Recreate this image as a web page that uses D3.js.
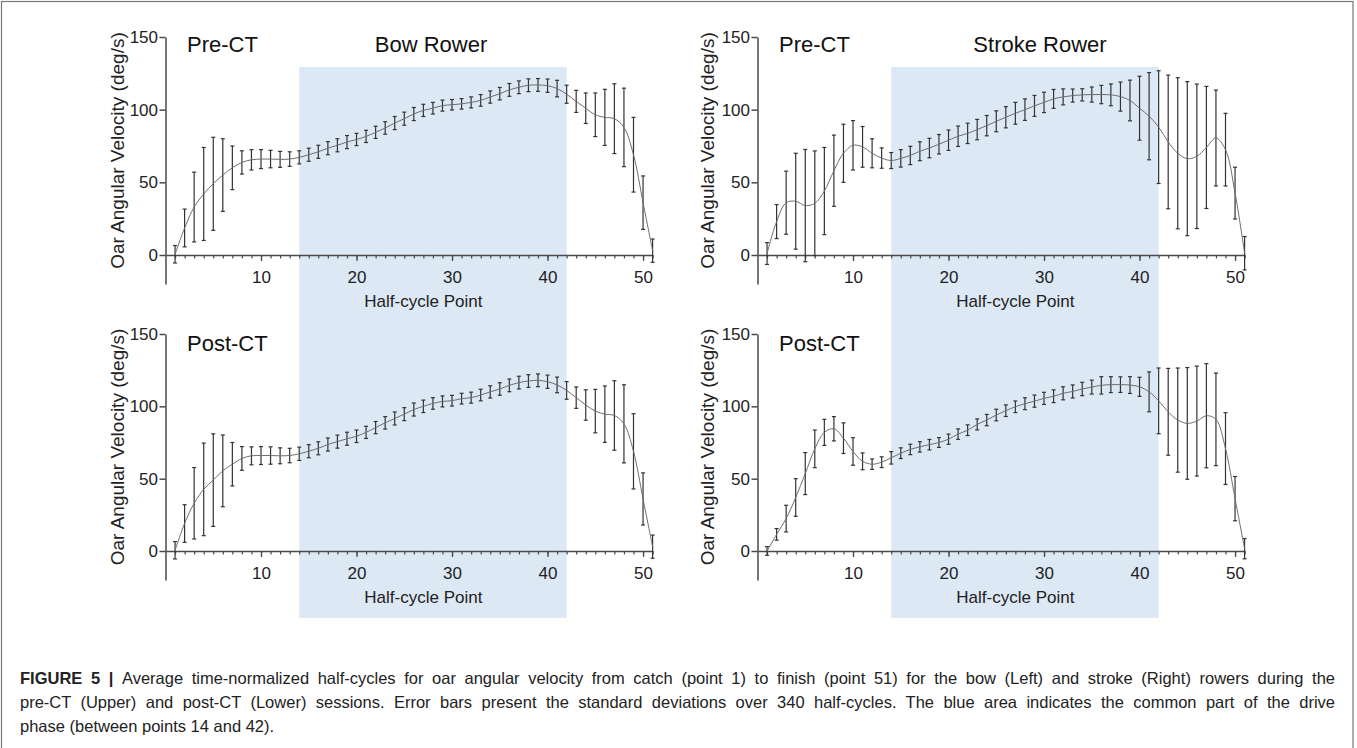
<!DOCTYPE html>
<html>
<head>
<meta charset="utf-8">
<script src="https://cdn.jsdelivr.net/npm/d3@7"></script>
<style>
  html, body { margin: 0; padding: 0; background: #fff; }
  svg { display: block; }
</style>
</head>
<body>
<script>
// ---------------- DATA ----------------
const halfCyclePoints = [1,2,3,4,5,6,7,8,9,10,11,12,13,14,15,16,17,18,19,20,21,22,23,24,25,26,27,28,29,30,31,32,33,34,35,36,37,38,39,40,41,42,43,44,45,46,47,48,49,50,51];
const xTickLabels = [10, 20, 30, 40, 50];
const yTickLabels = [0, 50, 100, 150];
const drivePhase = [14, 42];

const bowPreMean = [0.5,18.6,33,42,49,55,60,63.7,65.5,66,66,65.8,66,67.2,69,71,73.5,75.5,77.7,79.5,81.6,84.4,87.4,90.8,93.8,97,99.5,101,102.8,103.4,104,105,106.4,108.7,111,113.6,115.4,116.8,117,116.5,114.5,110.6,105.7,101,96.5,94.7,93.8,87.8,69,36,3];
const bowPreSD = [6,13,24,32,32,25,15,8,7,6.5,6,5.5,5,4.5,4.5,4.5,4.5,4.5,4.5,4.2,4.2,4.2,4.3,4.5,4.5,4.5,4.2,4,3.8,3.6,3.6,3.8,4,4.2,4.3,4.4,4.4,4.4,4.4,4.6,5.7,6.2,7.6,10.5,15,19.3,24,27,25.7,18.4,8];

const bowPostMean = [0.5,19,33,42.6,49,55.4,60,64,65.8,66,66,65.8,66,67.2,69,71,73.6,75.6,77.6,79.3,82,85.3,88.6,91.6,94.6,97.8,100,102,103.4,103.9,105.3,106,107.8,110,112,114.5,116.4,117.5,118,117,114.8,111,106,100.9,96.7,94.6,93.7,87.9,68.9,36,3];
const bowPostSD = [6,13,24.7,32,32,24.8,15,8.2,6.2,6.2,6,5.5,5,4.6,4.5,4.5,4.5,4.5,4.5,4.3,4.2,4.2,4.3,4.5,4.5,4.5,4.3,4,3.8,3.7,3.7,3.8,4,4.2,4.3,4.4,4.4,4.4,4.4,4.6,5.4,6.1,7.4,10.5,15,19.5,24,27,26,18,8];

const strokePreMean = [1,23,36,37,34,35.6,44,58,70,75.5,74.4,70,66.7,65,66.5,68.5,71.4,73.6,76.2,79,81.7,83.7,86.3,89,92,94.8,97.5,100,102.6,105,107.4,108.8,109.7,110.2,110.4,110.4,110.2,109,106.3,101,95.5,88,77.8,70,66.3,67.9,74,80.5,72.5,42.6,1.2];
const strokePreSD = [7.5,11.7,21.7,33,38.6,36,30,24.5,20,17,14,10,7,5.5,6,6.3,6.5,6.7,6.7,7,7,7,7,7,7.2,7.3,7.5,7.4,7.2,7,6.5,5.5,4.5,4.2,5.2,6.3,7.5,10,14,22,30,38.8,46,52,53,49.7,42,33,25,17.8,11.5];

const strokePostMean = [0,11.5,22.4,37,53.5,70.6,82,84.5,78,68.8,62,60,61.4,64.4,67.6,70.2,72,73.5,75,77.3,80.8,83.5,87.5,90.5,94,97,99.7,101.8,103.6,105.5,107,109,110.3,112,113.3,114.5,115,115,114.7,113.5,110,103.8,96.2,90.5,88.2,89.8,93.5,91,70.8,36.2,1.6];
const strokePostSD = [3,4,9.2,13,14.5,13,9,8.4,10.6,9.5,5.8,3.6,3.7,4.3,3.7,3.6,3.6,3.6,3.4,3.5,3.6,3.7,3.8,3.9,4,4,4,4.1,4.2,4.2,4.4,4.5,4.5,4.6,4.8,6,5.5,5.4,5.8,6.6,13.8,22.7,30,36,38.6,38,36,32,24.8,15.3,7];

const sessionLabels = ["Pre-CT", "Post-CT"];
const rowerLabels = ["Bow Rower", "Stroke Rower"];
const yAxisTitle = "Oar Angular Velocity (deg/s)";
const xAxisTitle = "Half-cycle Point";
const captionLines = [
  ["FIGURE 5 | ", "Average time-normalized half-cycles for oar angular velocity from catch (point 1) to finish (point 51) for the bow (Left) and stroke (Right) rowers during the"],
  ["", "pre-CT (Upper) and post-CT (Lower) sessions. Error bars present the standard deviations over 340 half-cycles. The blue area indicates the common part of the drive"],
  ["", "phase (between points 14 and 42)."]
];

// ---------------- LAYOUT ----------------
const W = 1357, H = 748;
const svg = d3.select("body").append("svg").attr("width", W).attr("height", H)
  .style("font-family", "Arial, 'Liberation Sans', Helvetica, sans-serif");

svg.append("rect").attr("width", W).attr("height", H).attr("fill", "#fff");

const columns = [
  { xl: 165.5, xr: 652.6, titleX: 117, rowerX: 431 },
  { xl: 757.5, xr: 1244.6, titleX: 707, rowerX: 1040 }
];
const rows = [
  { yZero: 255, yTop: 37, labelBase: 52 },
  { yZero: 551, yTop: 334, labelBase: 351 }
];
const panels = [
  { col: 0, row: 0, mean: bowPreMean, sd: bowPreSD },
  { col: 1, row: 0, mean: strokePreMean, sd: strokePreSD },
  { col: 0, row: 1, mean: bowPostMean, sd: bowPostSD },
  { col: 1, row: 1, mean: strokePostMean, sd: strokePostSD }
];

const blueTop = 67, blueBottom = 618;

// blue drive-phase bands (continuous per column)
columns.forEach(c => {
  const x = d3.scaleLinear().domain([0, 51]).range([c.xl, c.xr]);
  svg.append("rect")
    .attr("x", x(drivePhase[0])).attr("y", blueTop)
    .attr("width", x(drivePhase[1]) - x(drivePhase[0]))
    .attr("height", blueBottom - blueTop)
    .attr("fill", "#dde8f5");
});

panels.forEach(p => {
  const c = columns[p.col], r = rows[p.row];
  const x = d3.scaleLinear().domain([0, 51]).range([c.xl, c.xr]);
  const k = (r.yZero - r.yTop) / 150;
  const y = d3.scaleLinear().domain([-20, 150]).range([r.yZero + 20 * k, r.yTop]);
  const g = svg.append("g");

  // y axis
  const yAx = g.append("g").attr("transform", `translate(${c.xl},0)`)
    .call(d3.axisLeft(y).tickValues(yTickLabels).tickSize(6).tickSizeOuter(0).tickPadding(1.5));
  yAx.selectAll("path, line").attr("stroke", "#4a4a4a").attr("stroke-width", 1.5);
  yAx.selectAll("text").attr("font-size", 17).attr("fill", "#222");

  // x axis minor ticks
  const xMin = g.append("g").attr("transform", `translate(0,${y(0)})`)
    .call(d3.axisBottom(x).tickValues(halfCyclePoints).tickSize(3.5).tickSizeOuter(0).tickFormat(""));
  xMin.selectAll("path, line").attr("stroke", "#4a4a4a").attr("stroke-width", 1.2);
  xMin.select("path").attr("stroke-width", 1.5);
  // x axis major ticks
  const xMaj = g.append("g").attr("transform", `translate(0,${y(0)})`)
    .call(d3.axisBottom(x).tickValues(xTickLabels).tickSize(6).tickSizeOuter(0).tickPadding(10));
  xMaj.select("path").remove();
  xMaj.selectAll("line").attr("stroke", "#4a4a4a").attr("stroke-width", 1.3);
  xMaj.selectAll("text").attr("font-size", 17).attr("fill", "#222");

  // x axis title
  g.append("text").attr("x", x(27)).attr("y", y(0) + 52)
    .attr("text-anchor", "middle").attr("font-size", 17).attr("fill", "#222")
    .text(xAxisTitle);

  // y axis title
  const ty = (y(150) + y(-20)) / 2 - 10;
  g.append("text").attr("transform", `translate(${c.titleX + 7},${ty}) rotate(-90)`)
    .attr("text-anchor", "middle").attr("font-size", 19).attr("fill", "#222")
    .text(yAxisTitle);

  // session label
  g.append("text").attr("x", c.xl + 21.5).attr("y", r.labelBase)
    .attr("font-size", 22).attr("fill", "#111").text(sessionLabels[p.row]);
  if (p.row === 0) {
    g.append("text").attr("x", c.rowerX).attr("y", r.labelBase)
      .attr("text-anchor", "middle").attr("font-size", 22).attr("fill", "#111")
      .text(rowerLabels[p.col]);
  }

  // error bars
  const eb = g.append("g").attr("stroke", "#333").attr("stroke-width", 1.2);
  halfCyclePoints.forEach((pt, i) => {
    const xm = x(pt), lo = y(p.mean[i] - p.sd[i]), hi = y(p.mean[i] + p.sd[i]);
    eb.append("line").attr("x1", xm).attr("x2", xm).attr("y1", lo).attr("y2", hi);
    eb.append("line").attr("x1", xm - 2).attr("x2", xm + 2).attr("y1", lo).attr("y2", lo);
    eb.append("line").attr("x1", xm - 2).attr("x2", xm + 2).attr("y1", hi).attr("y2", hi);
  });

  // mean curve
  const line = d3.line().x((d, i) => x(halfCyclePoints[i])).y(d => y(d)).curve(d3.curveCatmullRom.alpha(0.5));
  g.append("path").datum(p.mean).attr("d", line)
    .attr("fill", "none").attr("stroke", "#6e6e6e").attr("stroke-width", 1);
});

// caption: lines 1-2 justified to the right edge, last line natural
const capX = 20, capRight = 1335;
const capG = svg.append("g")
  .attr("font-family", "Arial, 'Liberation Sans', sans-serif")
  .attr("font-size", 16.5).attr("fill", "#222");
captionLines.forEach((ln, i) => {
  const t = capG.append("text").attr("x", capX).attr("y", 684 + i * 24);
  if (ln[0]) t.append("tspan").attr("font-weight", "bold").text(ln[0]);
  t.append("tspan").text(ln[1]);
  if (i < 2) {
    const w = t.node().getComputedTextLength();
    const full = (ln[0] + ln[1]).trim();
    const nSpaces = (full.match(/ /g) || []).length;
    t.attr("word-spacing", (capRight - capX - w) / nSpaces);
  }
});

// figure border
svg.append("rect").attr("x", 1.5).attr("y", 1.5).attr("width", 1351.5).attr("height", 750)
  .attr("fill", "none").attr("stroke", "#777").attr("stroke-width", 1.2);
</script>
</body>
</html>
